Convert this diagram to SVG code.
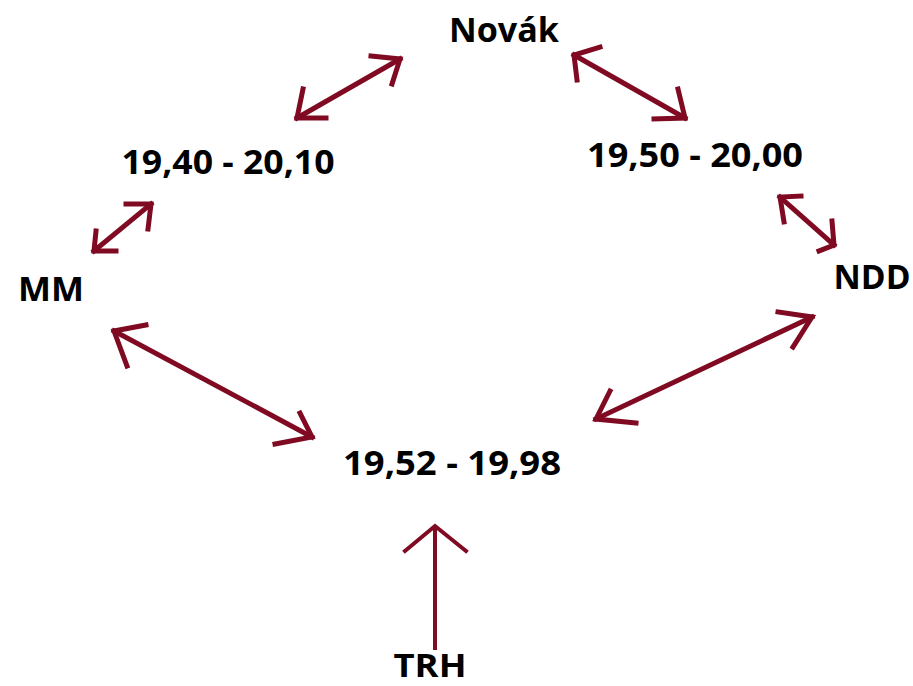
<svg xmlns="http://www.w3.org/2000/svg" width="913" height="686" viewBox="0 0 913 686">
<style>
.t{font-family:"Open Sans","Noto Sans","Liberation Sans",sans-serif;font-weight:bold;font-size:34px;fill:#000;text-anchor:middle}
.c{fill:none;stroke:#7f0a22;stroke-width:5;stroke-linecap:square;stroke-linejoin:miter}
.c2{fill:none;stroke:#7f0a22;stroke-width:4;stroke-linecap:square;stroke-linejoin:miter}
</style>
<rect width="913" height="686" fill="#fff"/>
<g id="connectors">
<g id="c-novak-left">
<path class="c" d="M297,118 L400,59"/>
<path class="c" d="M371,56 L400,59 L392,84"/>
<path class="c" d="M303,89 L297,118 L326,118"/>
</g>
<g id="c-novak-right">
<path class="c" d="M574,55 L685,118"/>
<path class="c" d="M600,47 L574,55 L577,80"/>
<path class="c" d="M678,89 L685,118 L654,119"/>
</g>
<g id="c-mm-top">
<path class="c" d="M94,251 L151,204"/>
<path class="c" d="M126,204 L151,204 L148,229"/>
<path class="c" d="M96,231 L94,251 L116,251"/>
</g>
<g id="c-ndd-top">
<path class="c" d="M780,197 L834,245"/>
<path class="c" d="M801,196 L780,197 L784,222"/>
<path class="c" d="M832,221 L834,245 L819,251"/>
</g>
<g id="c-mm-center">
<path class="c" d="M114,331 L312,437"/>
<path class="c" d="M146,325 L114,331 L127,366"/>
<path class="c" d="M300,413 L312,437 L275,444"/>
</g>
<g id="c-ndd-center">
<path class="c" d="M596,419 L812,317"/>
<path class="c" d="M778,312 L812,317 L793,347"/>
<path class="c" d="M610,391 L596,419 L636,423"/>
</g>
<g id="c-trh">
<path class="c2" d="M435,648 L435,527"/>
<path class="c2" d="M405,551 L435,526 L466,551"/>
</g>
</g>
<g id="n-novak"><text class="t" x="504" y="42" textLength="110" lengthAdjust="spacingAndGlyphs">Novák</text></g>
<g id="n-left"><text class="t" x="228" y="174" textLength="213" lengthAdjust="spacingAndGlyphs">19,40 - 20,10</text></g>
<g id="n-right"><text class="t" x="695" y="167" textLength="216" lengthAdjust="spacingAndGlyphs">19,50 - 20,00</text></g>
<g id="n-mm"><text class="t" x="51" y="301" textLength="66" lengthAdjust="spacingAndGlyphs">MM</text></g>
<g id="n-ndd"><text class="t" x="872" y="289" textLength="77" lengthAdjust="spacingAndGlyphs">NDD</text></g>
<g id="n-center"><text class="t" x="452" y="475" textLength="218" lengthAdjust="spacingAndGlyphs">19,52 - 19,98</text></g>
<g id="n-trh"><text class="t" x="430" y="677" style="font-size:32px" textLength="73" lengthAdjust="spacingAndGlyphs">TRH</text></g>
</svg>
